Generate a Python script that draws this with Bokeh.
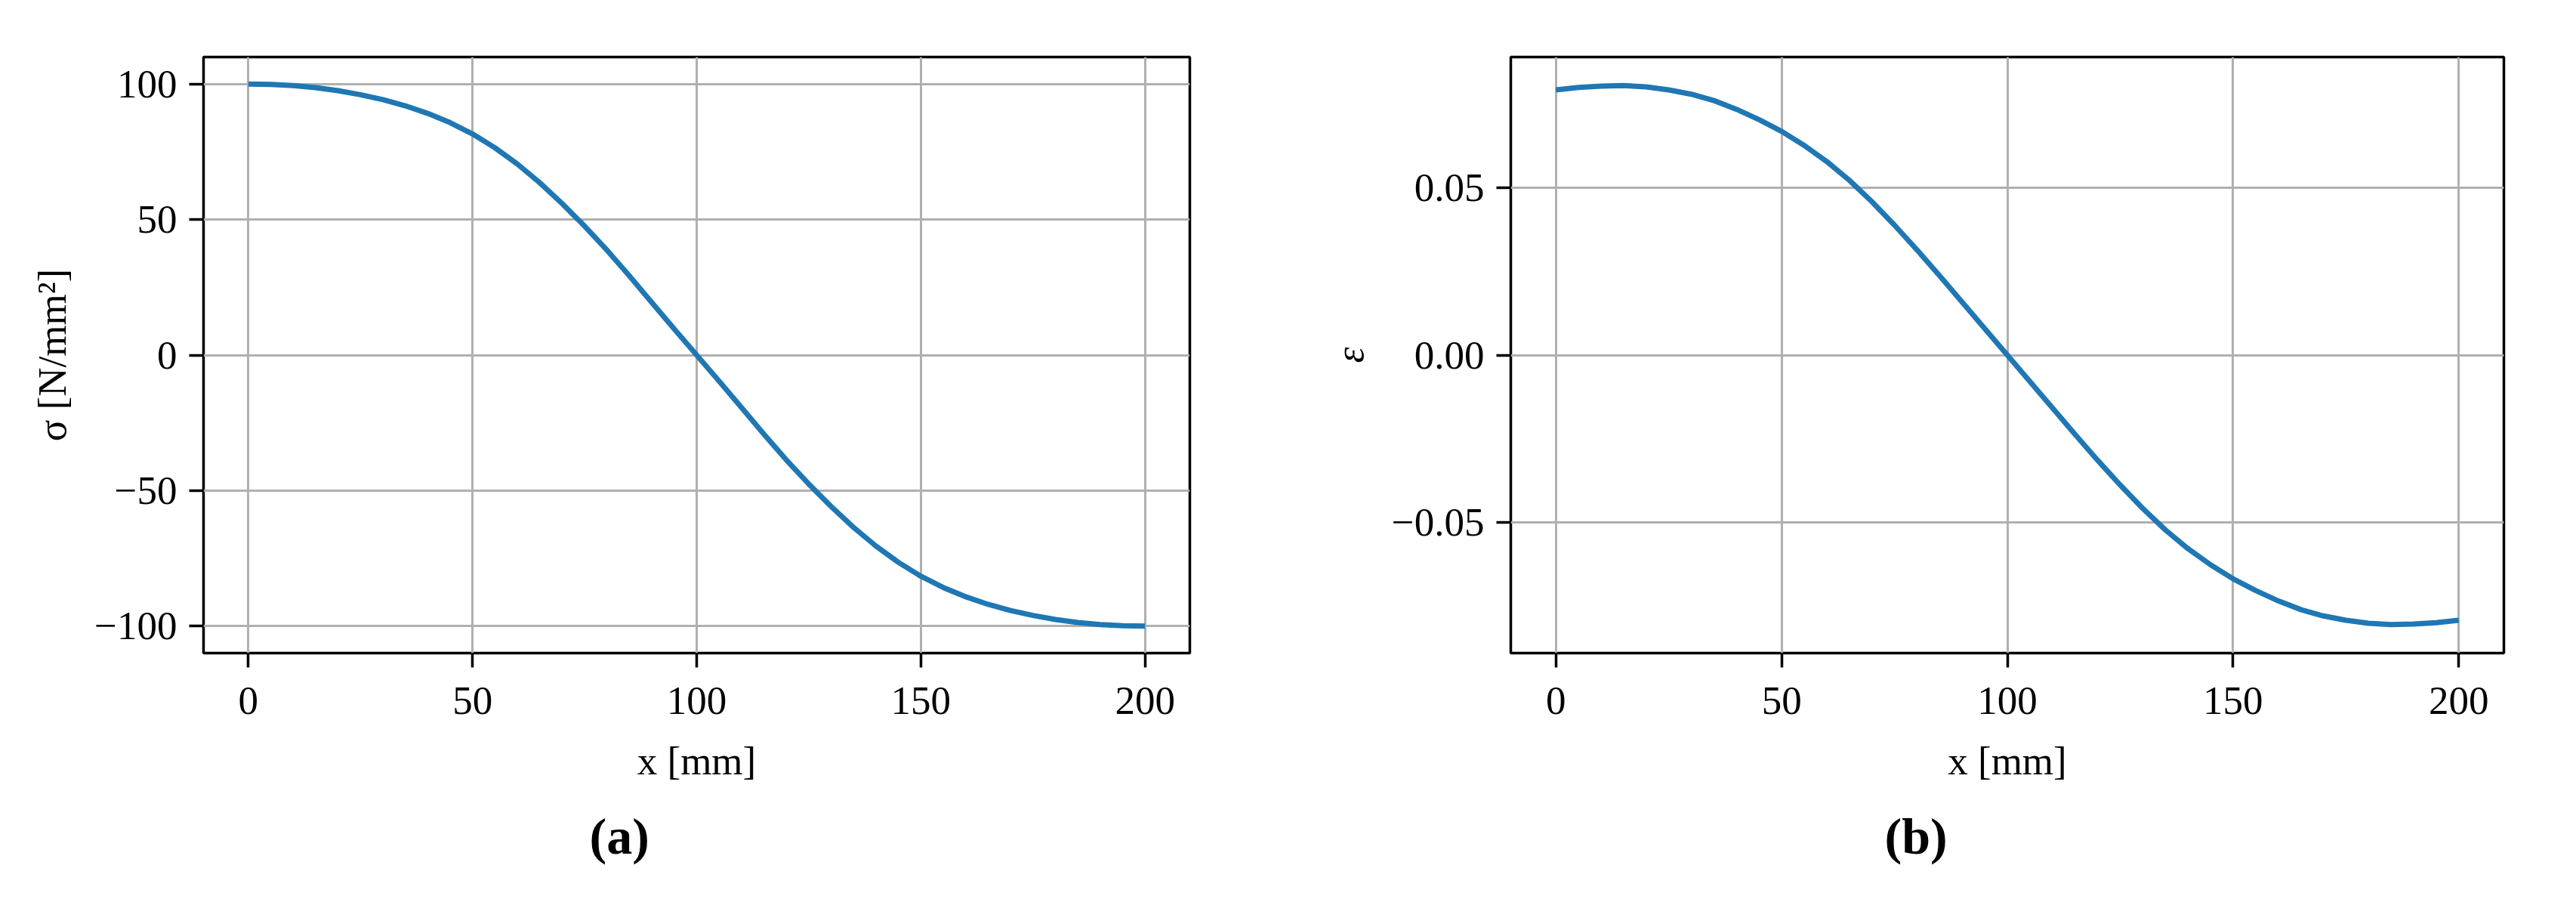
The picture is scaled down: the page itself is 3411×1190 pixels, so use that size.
from bokeh.plotting import figure
from bokeh.layouts import row
from bokeh.models import FixedTicker, CustomJSTickFormatter, Range1d, Title, ColumnDataSource
from bokeh.embed import file_html
from bokeh.resources import INLINE

# ---- data ----
x_mm = [0, 5, 10, 15, 20, 25, 30, 35, 40, 45, 50, 55, 60, 65, 70, 75, 80, 85, 90, 95, 100,
        105, 110, 115, 120, 125, 130, 135, 140, 145, 150, 155, 160, 165, 170, 175, 180, 185, 190, 195, 200]
sigma = [100.0, 99.9, 99.5, 98.7, 97.6, 96.1, 94.3, 92.0, 89.2, 85.8, 81.6, 76.5, 70.5, 63.6, 55.9,
         47.6, 38.7, 29.2, 19.4, 9.6, 0.0,
         -9.6, -19.4, -29.2, -38.7, -47.6, -55.9, -63.6, -70.5, -76.5, -81.6, -85.8, -89.2, -92.0,
         -94.3, -96.1, -97.6, -98.7, -99.5, -99.9, -100.0]
epsilon = [0.0792, 0.0799, 0.0803, 0.0805, 0.0801, 0.0792, 0.0779, 0.0760, 0.0734, 0.0703, 0.0668,
           0.0626, 0.0578, 0.0522, 0.0458, 0.0388, 0.0314, 0.0237, 0.0158, 0.0079, 0.0,
           -0.0079, -0.0158, -0.0237, -0.0314, -0.0388, -0.0458, -0.0522, -0.0578, -0.0626, -0.0668,
           -0.0703, -0.0734, -0.0760, -0.0779, -0.0792, -0.0801, -0.0805, -0.0803, -0.0799, -0.0792]
x_ticks = [0, 50, 100, 150, 200]
sigma_ticks = [-100, -50, 0, 50, 100]
eps_ticks = [-0.05, 0, 0.05]
captions = ["(a)", "(b)"]

FONT = "Liberation Serif"
FS = "53px"
LINE = "#1f77b4"
GRID = "#b0b0b0"


def make(width, height, y_vals, y_rng, y_ticks, y_label, y_italic, decimals,
         b_left, b_right, b_top, b_bottom, caption, cap_offset):
    p = figure(width=width, height=height, output_backend="svg", toolbar_location=None,
               x_range=Range1d(-10, 210), y_range=Range1d(*y_rng),
               min_border_left=b_left, min_border_right=b_right,
               min_border_top=b_top, min_border_bottom=b_bottom,
               background_fill_color="white", border_fill_color="white")
    src = ColumnDataSource(dict(x=x_mm, y=y_vals))
    p.line("x", "y", source=src, line_color=LINE, line_width=7)

    p.outline_line_color = "black"
    p.outline_line_width = 3.5
    p.outline_line_alpha = 1.0

    for ax in (p.xaxis[0], p.yaxis[0]):
        ax.axis_line_color = None
        ax.major_tick_line_color = "black"
        ax.major_tick_line_width = 3.5
        ax.major_tick_out = 19
        ax.major_tick_in = 0
        ax.minor_tick_line_color = None
        ax.major_label_text_font = FONT
        ax.major_label_text_font_size = FS
        ax.major_label_text_color = "black"
        ax.axis_label_text_font = FONT
        ax.axis_label_text_font_size = FS
        ax.axis_label_text_color = "black"

    p.xaxis.major_label_standoff = 26
    p.yaxis.major_label_standoff = 16
    p.xaxis.ticker = FixedTicker(ticks=x_ticks)
    p.yaxis.ticker = FixedTicker(ticks=y_ticks)
    p.xaxis.formatter = CustomJSTickFormatter(code="return tick.toFixed(0).replace('-', '\\u2212');")
    p.yaxis.formatter = CustomJSTickFormatter(
        code="return tick.toFixed(%d).replace('-', '\\u2212');" % decimals)
    p.xaxis.axis_label = "x [mm]"
    p.xaxis.axis_label_text_font_style = "normal"
    p.xaxis.axis_label_standoff = 30
    p.yaxis.axis_label = y_label
    p.yaxis.axis_label_text_font_style = "italic" if y_italic else "normal"
    p.yaxis.axis_label_standoff = 24

    p.xgrid.grid_line_color = GRID
    p.xgrid.grid_line_width = 3
    p.ygrid.grid_line_color = GRID
    p.ygrid.grid_line_width = 3

    # caption below the x axis
    p.add_layout(Title(text=caption, align="left", offset=cap_offset, standoff=57,
                       text_font=FONT, text_font_size="68px", text_font_style="bold",
                       text_color="black"), "below")
    return p


# frame a: left 277, right 1583, top 83, bottom 872 ; figure spans x 8..1700
pa = make(1692, 1174, sigma, (-110, 110), sigma_ticks, "σ [N/mm²]", False, 0,
          269, 117, 75, 310, captions[0], 788 - 277)
# frame b: left 2008, right 3323, top 73, bottom 872 ; figure spans x 1700..3403
pb = make(1703, 1174, epsilon, (-0.089, 0.089), eps_ticks, "ε", True, 2,
          308, 80, 65, 310, captions[1], 2503 - 2008)

layout = row(pa, pb)
open("out.html", "w").write(file_html(layout, INLINE))
